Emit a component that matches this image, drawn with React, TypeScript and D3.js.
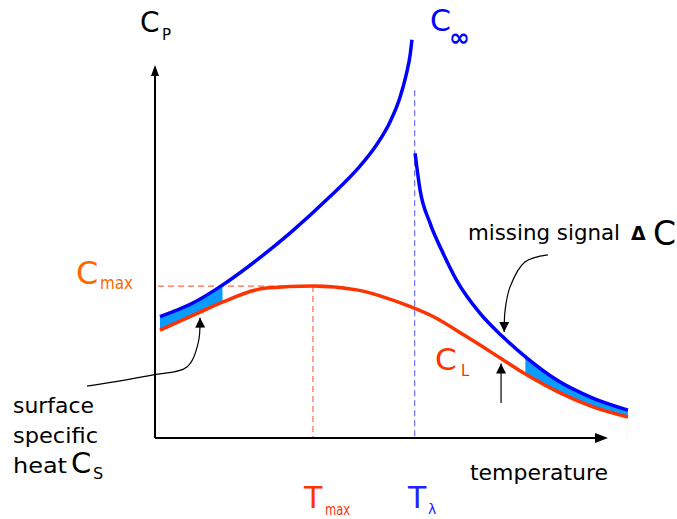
import React from "react";
import * as d3 from "d3";

// Temperature (arbitrary units) and Cp (arbitrary units)
const blueLowT = [1.1, 8.4, 14.4, 22.6, 30.0, 38.9, 44.8, 48.9, 52.2, 54.4, 55.8, 56.7, 57.1];
const blueLowC = [32.3, 35.9, 40.2, 47.3, 54.5, 64.2, 71.3, 77.4, 84.0, 90.4, 96.5, 101.9, 105.9];

const blueHighT = [57.8, 58.9, 61.1, 64.0, 67.0, 72.2, 77.3, 82.6, 89.3, 97.3, 105.1];
const blueHighC = [75.7, 66.0, 57.2, 49.2, 42.0, 33.2, 26.9, 21.3, 15.4, 10.6, 7.4];

const redT = [1.1, 10.0, 15.1, 24.8, 35.1, 44.8, 54.4, 61.8, 69.3, 76.7, 82.6, 90.0, 97.3, 105.1];
const redC = [28.7, 33.5, 36.2, 39.9, 40.4, 39.4, 36.0, 32.3, 26.9, 21.3, 16.8, 12.0, 8.3, 5.6];

const T_MAX = 35.1;
const C_MAX = 40.4;
const T_LAMBDA = 57.7;
const C_LAMBDA_TOP = 92.5;

const leftShade = [1.1, 15.0];
const rightShade = [82.3, 107];

// annotation arrows (temperature, Cp)
const surfArrowT = [-15.1, -0.4, 7.1, 9.6, 10.0];
const surfArrowC = [13.8, 16.8, 18.9, 25.3, 32.0];
const missArrowT = [87.3, 82.2, 78.9, 77.8, 77.6];
const missArrowC = [48.7, 46.8, 40.2, 34.0, 28.2];
const lowArrowT = [76.9, 76.9];
const lowArrowC = [9.3, 19.8];

const FONT = "'DejaVu Sans', sans-serif";
const BLUE = "#0000ff";
const RED = "#ff3300";
const ORANGE = "#ff6600";
const FILL = "#0a9bff";

export default function App() {
  const W = 677;
  const H = 519;
  const x = d3.scaleLinear().domain([0, 100]).range([155, 605]);
  const y = d3.scaleLinear().domain([0, 100]).range([438, 62]);

  const zip = (ts: number[], cs: number[]) => ts.map((t, i) => [t, cs[i]] as [number, number]);
  const line = d3
    .line<[number, number]>()
    .x((d) => x(d[0]))
    .y((d) => y(d[1]))
    .curve(d3.curveMonotoneX);
  const area = d3
    .area<[number, number]>()
    .x((d) => x(d[0]))
    .y0(y(-30))
    .y1((d) => y(d[1]))
    .curve(d3.curveMonotoneX);

  const blueLow = zip(blueLowT, blueLowC);
  const blueHigh = zip(blueHighT, blueHighC);
  const red = zip(redT, redC);

  const annLine = d3
    .line<[number, number]>()
    .x((d) => x(d[0]))
    .y((d) => y(d[1]))
    .curve(d3.curveCatmullRom.alpha(0.5));

  const x0 = x(0);
  const y0 = y(0);

  return (
    <svg
      width={W}
      height={H}
      style={{ position: "absolute", left: 0, top: 0, background: "#fff" }}
      fontFamily={FONT}
    >
      <defs>
        <mask id="bandL" maskUnits="userSpaceOnUse" x={0} y={0} width={W} height={H}>
          <path d={area(blueLow) as string} fill="#fff" />
          <path d={area(red) as string} fill="#000" />
        </mask>
        <mask id="bandR" maskUnits="userSpaceOnUse" x={0} y={0} width={W} height={H}>
          <path d={area(blueHigh) as string} fill="#fff" />
          <path d={area(red) as string} fill="#000" />
        </mask>
        <marker id="ah" viewBox="0 0 10 10" refX={10} refY={5} markerWidth={10} markerHeight={10} markerUnits="userSpaceOnUse" orient="auto">
          <path d="M0,0 L10,5 L0,10 Z" fill="#000" />
        </marker>
      </defs>

      {/* shaded missing-signal bands between C_inf and C_L */}
      <rect
        x={x(leftShade[0]) - 3}
        y={y(100)}
        width={x(leftShade[1]) - x(leftShade[0]) + 3}
        height={y0 - y(100)}
        fill={FILL}
        mask="url(#bandL)"
      />
      <rect
        x={x(rightShade[0])}
        y={y(100)}
        width={x(rightShade[1]) - x(rightShade[0])}
        height={y0 - y(100)}
        fill={FILL}
        mask="url(#bandR)"
      />

      {/* dashed guides */}
      <line x1={x0 + 3} x2={x(T_MAX)} y1={y(C_MAX)} y2={y(C_MAX)} stroke="#ff6a4a" strokeWidth={1.2} strokeDasharray="6,4" />
      <line x1={x(T_MAX)} x2={x(T_MAX)} y1={y(C_MAX)} y2={y0} stroke="#ff6a4a" strokeWidth={1.2} strokeDasharray="6,4" />
      <line x1={x(T_LAMBDA)} x2={x(T_LAMBDA)} y1={y(C_LAMBDA_TOP)} y2={y0} stroke="#6f6fff" strokeWidth={1.2} strokeDasharray="6,4" />

      {/* axes */}
      <line x1={x0} x2={x(100) - 6} y1={y0} y2={y0} stroke="#000" strokeWidth={2} />
      <path d={`M${x(100) + 3},${y0} L${x(100) - 10},${y0 - 5} L${x(100) - 10},${y0 + 5} Z`} fill="#000" />
      <line x1={x0} x2={x0} y1={y0} y2={y(100) + 10} stroke="#000" strokeWidth={2} />
      <path d={`M${x0},${y(100) + 3} L${x0 - 4},${y(100) + 14} L${x0 + 4},${y(100) + 14} Z`} fill="#000" />

      {/* curves */}
      <path d={line(red) as string} fill="none" stroke={RED} strokeWidth={3.5} />
      <path d={line(blueLow) as string} fill="none" stroke={BLUE} strokeWidth={3.5} />
      <path d={line(blueHigh) as string} fill="none" stroke={BLUE} strokeWidth={3.5} />

      {/* annotation arrows */}
      <path d={annLine(zip(surfArrowT, surfArrowC)) as string} fill="none" stroke="#000" strokeWidth={1.2} markerEnd="url(#ah)" />
      <path d={annLine(zip(missArrowT, missArrowC)) as string} fill="none" stroke="#000" strokeWidth={1.2} markerEnd="url(#ah)" />
      <path d={annLine(zip(lowArrowT, lowArrowC)) as string} fill="none" stroke="#000" strokeWidth={1.2} markerEnd="url(#ah)" />

      {/* labels */}
      <text x={140} y={32} fontSize={28} fill="#000">C</text>
      <text x={162} y={40} fontSize={15} fill="#000">P</text>

      <text x={430} y={31} fontSize={30} fill={BLUE}>C</text>
      <text x={449} y={46} fontSize={25} fontWeight="bold" fill={BLUE}>∞</text>

      <text x={76} y={284} fontSize={32} fill={ORANGE}>C</text>
      <text x={100} y={289} fontSize={17} fill={ORANGE} textLength={33} lengthAdjust="spacingAndGlyphs">max</text>

      <text x={468} y={240} fontSize={22} fill="#000" textLength={152} lengthAdjust="spacingAndGlyphs">missing signal</text>
      <text x={631} y={240} fontSize={19} fontWeight="bold" fill="#000">Δ</text>
      <text x={653} y={245} fontSize={33} fill="#000">C</text>

      <text x={435} y={370} fontSize={31} fill={RED}>C</text>
      <text x={461} y={376} fontSize={15} fill={RED}>L</text>

      <text x={13} y={413} fontSize={22} fill="#000" textLength={81} lengthAdjust="spacingAndGlyphs">surface</text>
      <text x={13} y={443} fontSize={22} fill="#000" textLength={85} lengthAdjust="spacingAndGlyphs">specific</text>
      <text x={13} y={473} fontSize={22} fill="#000" textLength={54} lengthAdjust="spacingAndGlyphs">heat</text>
      <text x={71} y={473} fontSize={29} fill="#000">C</text>
      <text x={93} y={479} fontSize={16} fill="#000">S</text>

      <text x={470} y={480} fontSize={22} fill="#000" textLength={138} lengthAdjust="spacingAndGlyphs">temperature</text>

      <text x={304} y={508} fontSize={30} fill={RED}>T</text>
      <text x={325} y={515} fontSize={16} fill={RED} textLength={25} lengthAdjust="spacingAndGlyphs">max</text>

      <text x={408} y={508} fontSize={30} fill="#2222ff">T</text>
      <text x={428} y={514} fontSize={14} fill="#2222ff">λ</text>
    </svg>
  );
}
